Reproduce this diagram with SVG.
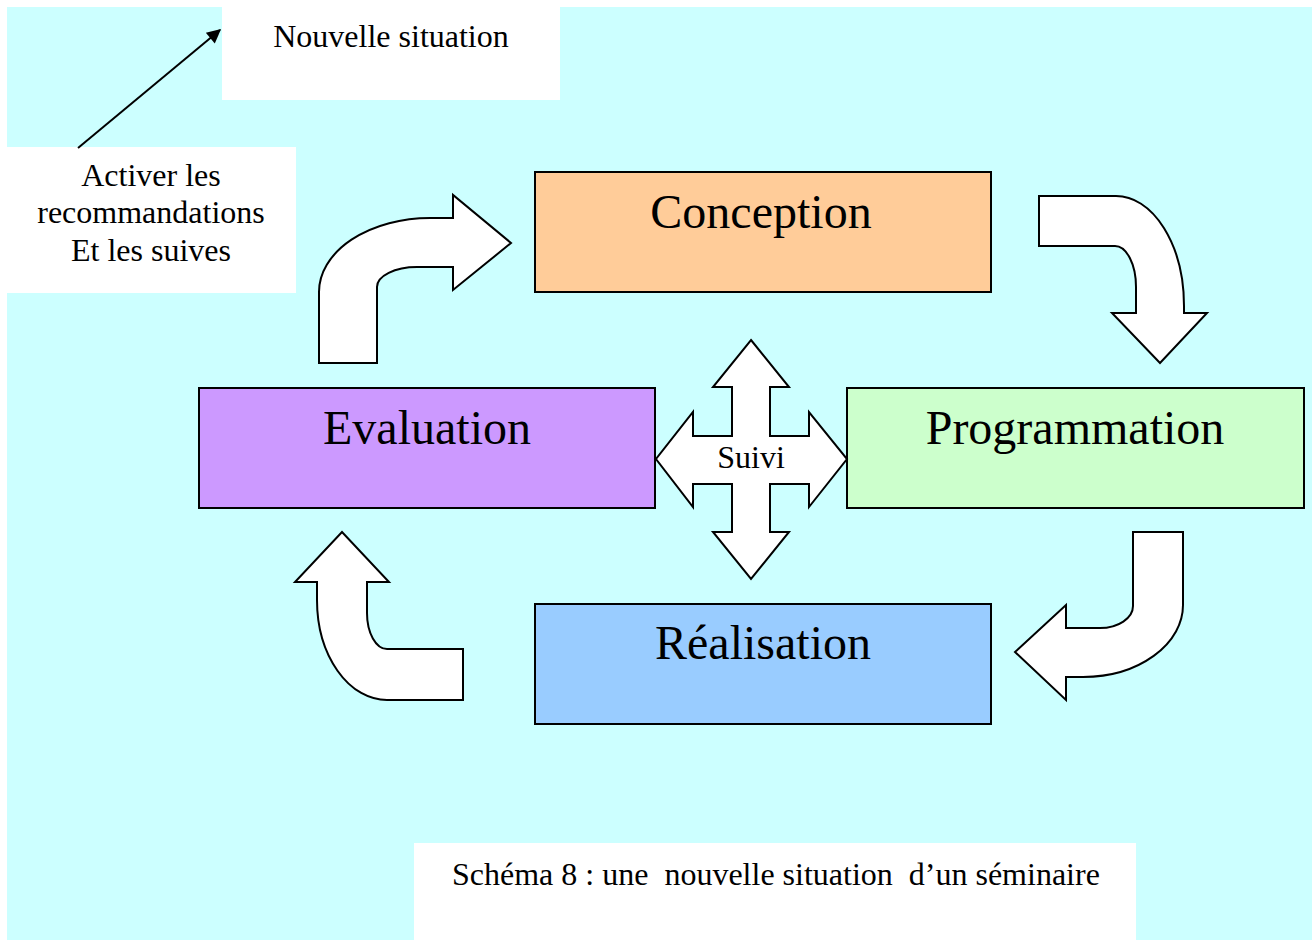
<svg xmlns="http://www.w3.org/2000/svg" width="1312" height="940" viewBox="0 0 1312 940">
<defs>
<style>
.txt{font-family:"Liberation Serif","Times New Roman",serif;fill:#000}
.big{font-size:48px;text-anchor:middle}
.mid{font-size:32px;text-anchor:middle}
.box{stroke:#000;stroke-width:2}
.arr{fill:#fff;stroke:#000;stroke-width:2;stroke-linejoin:miter}
</style>
<marker id="ah" viewBox="0 0 10 10" refX="9" refY="5" markerWidth="8" markerHeight="7" orient="auto" markerUnits="strokeWidth">
<path d="M0,0 L10,5 L0,10 Z" fill="#000"/>
</marker>
</defs>
<rect x="0" y="0" width="1312" height="940" fill="#fff"/>
<rect x="7" y="7" width="1305" height="933" fill="#CCFFFF"/>

<g id="nouvelle">
<rect x="222" y="7" width="338" height="93" fill="#fff"/>
<text class="txt mid" x="391" y="47">Nouvelle situation</text>
</g>

<g id="activer">
<rect x="7" y="147" width="289" height="146" fill="#fff"/>
<text class="txt mid" x="151" y="186">Activer les</text>
<text class="txt mid" x="151" y="223">recommandations</text>
<text class="txt mid" x="151" y="261">Et les suives</text>
</g>

<g id="conception">
<rect class="box" x="535" y="172" width="456" height="120" fill="#FFCC99"/>
<text class="txt big" x="761" y="228">Conception</text>
</g>

<g id="evaluation">
<rect class="box" x="199" y="388" width="456" height="120" fill="#CC99FF"/>
<text class="txt big" x="427" y="444">Evaluation</text>
</g>

<g id="programmation">
<rect class="box" x="847" y="388" width="457" height="120" fill="#CCFFCC"/>
<text class="txt big" x="1075" y="444">Programmation</text>
</g>

<g id="realisation">
<rect class="box" x="535" y="604" width="456" height="120" fill="#99CCFF"/>
<text class="txt big" x="763" y="659">Réalisation</text>
</g>

<g id="suivi">
<path class="arr" d="M751,340 L789,387 L770,387 L770,436 L809,436 L809,412 L847,459 L809,507 L809,484 L770,484 L770,532 L789,532 L751,579 L713,532 L732,532 L732,484 L693,484 L693,507 L656,459 L693,412 L693,436 L732,436 L732,387 L713,387 Z"/>
<text class="txt mid" x="751" y="468">Suivi</text>
</g>

<g id="caption">
<rect x="414" y="843" width="722" height="97" fill="#fff"/>
<text class="txt" x="452" y="885" font-size="32" xml:space="preserve">Schéma 8 : une  nouvelle situation  d’un séminaire</text>
</g>

<g id="connectors">
<path class="arr" d="M319,363 L319,292 A111,74 0 0 1 430,218 L453,218 L453,195 L511,243 L453,290 L453,267 L417,267 A40,20 0 0 0 377,287 L377,363 Z"/>
<path class="arr" d="M1039,196 L1116,196 A68,110 0 0 1 1184,306 L1184,313 L1207,313 L1160,363 L1112,313 L1136,313 L1136,287 A21,41 0 0 0 1115,246 L1039,246 Z"/>
<path class="arr" d="M1133,532 L1183,532 L1183,605 A100,72 0 0 1 1083,677 L1066,677 L1066,700 L1015,652 L1066,605 L1066,628 L1100,628 A33,22 0 0 0 1133,606 Z"/>
<path class="arr" d="M463,649 L387,649 A20,36 0 0 1 367,613 L367,582 L389,582 L342,532 L295,582 L317,582 L317,600 A70,100 0 0 0 387,700 L463,700 Z"/>
<line x1="78" y1="148" x2="220" y2="30" stroke="#000" stroke-width="2" marker-end="url(#ah)"/>
</g>
</svg>
